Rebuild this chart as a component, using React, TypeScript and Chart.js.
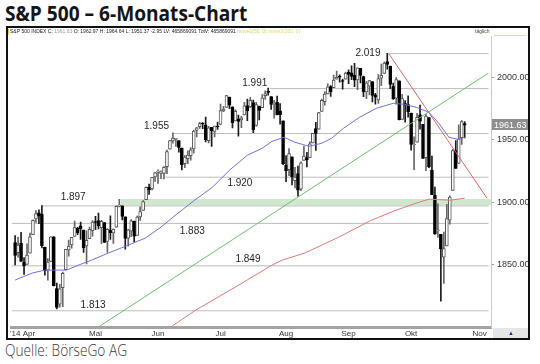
import React, { useEffect, useRef } from 'react';
import { Chart, registerables } from 'chart.js';

Chart.register(...registerables);

// Trading days from 24 Mar 2014 (index 0) to 27 Oct 2014 (index 151)
const opens = [
  1867.7, 1859.5, 1867.1, 1852.1, 1850.1, 1859.2,
  1874.0, 1886.6, 1891.4, 1890.3, 1863.9, 1845.5, 1852.6, 1872.3, 1830.7, 1818.2, 1831.5, 1846.0, 1861.7, 1865.8, 1872.6, 1879.3, 1881.0, 1877.7, 1865.0, 1870.8, 1877.1,
  1884.4, 1885.3, 1879.5, 1883.7, 1868.5, 1877.4, 1875.3, 1880.0, 1896.8, 1897.1, 1888.2, 1871.2, 1876.7, 1884.9, 1873.3, 1888.2, 1893.3, 1902.0, 1911.8, 1910.6, 1920.3,
  1923.9, 1923.1, 1923.1, 1928.5, 1942.4, 1949.0, 1950.3, 1949.4, 1943.4, 1930.8, 1934.8, 1937.2, 1942.7, 1957.5, 1960.5, 1962.9, 1962.0, 1949.3, 1959.9, 1956.6, 1960.8,
  1962.3, 1973.1, 1975.9, 1984.2, 1976.4, 1965.1, 1966.7, 1965.8, 1969.9, 1977.4, 1976.4, 1979.8, 1961.5, 1976.9, 1975.7, 1985.3, 1988.1, 1984.6, 1978.3, 1980.0, 1973.2, 1965.1,
  1929.8, 1926.0, 1936.3, 1917.3, 1923.0, 1910.4, 1933.4, 1935.7, 1935.6, 1947.4, 1958.9, 1958.4, 1972.7, 1980.5, 1986.8, 1992.6, 1991.7, 1998.6, 2000.5, 1997.4, 1998.5,
  2004.1, 2003.6, 2001.7, 1998.0, 2007.2, 2000.7, 1988.4, 1992.9, 1996.7, 1986.0, 1981.9, 1999.3, 2003.1, 2012.7, 2009.1, 1992.8, 1983.3, 1997.3, 1966.2, 1979.0, 1978.2,
  1971.4, 1945.8, 1948.1, 1970.0, 1962.4, 1935.6, 1967.7, 1925.6, 1905.7, 1877.1, 1874.2, 1856.0, 1864.9, 1885.6, 1909.4, 1941.3, 1931.0, 1951.6, 1963.0,
];
const highs = [
  1873.3, 1871.9, 1875.9, 1855.6, 1866.6, 1875.2,
  1885.8, 1893.2, 1893.8, 1897.3, 1864.0, 1854.9, 1872.4, 1872.5, 1835.1, 1834.2, 1844.0, 1862.3, 1869.6, 1871.9, 1884.9, 1879.8, 1884.1, 1877.7, 1877.0, 1880.0, 1885.2,
  1888.6, 1891.3, 1885.5, 1883.7, 1878.8, 1889.1, 1878.6, 1897.1, 1902.2, 1897.1, 1888.2, 1878.3, 1886.0, 1884.9, 1888.8, 1896.3, 1901.3, 1912.3, 1914.5, 1920.0, 1924.0,
  1925.9, 1925.1, 1928.6, 1941.7, 1949.4, 1955.6, 1950.9, 1949.4, 1943.4, 1937.3, 1941.2, 1943.7, 1957.7, 1959.9, 1963.9, 1963.7, 1968.2, 1960.8, 1959.9, 1961.0, 1964.2,
  1978.6, 1976.7, 1985.6, 1984.2, 1976.4, 1974.2, 1969.8, 1968.7, 1979.9, 1982.5, 1983.9, 1981.8, 1979.9, 1976.9, 1986.2, 1989.2, 1991.4, 1984.6, 1981.5, 1984.9, 1978.9, 1965.1,
  1937.4, 1942.9, 1936.3, 1927.9, 1928.9, 1932.4, 1944.9, 1939.9, 1948.4, 1955.2, 1964.0, 1972.0, 1982.6, 1988.6, 1994.8, 1993.5, 2001.9, 2005.0, 2002.1, 1998.6, 2004.3,
  2006.1, 2009.3, 2011.2, 2007.7, 2007.2, 2001.0, 1996.7, 1997.7, 1996.7, 1987.2, 2002.3, 2010.7, 2012.3, 2019.3, 2009.1, 1995.4, 1999.8, 1997.3, 1986.4, 1981.3, 1985.2,
  1971.4, 1952.3, 1971.2, 1977.8, 1962.4, 1970.4, 1967.7, 1936.9, 1912.1, 1898.7, 1874.2, 1876.0, 1898.2, 1905.0, 1942.5, 1949.3, 1961.9, 1965.3, 1964.6,
];
const lows = [
  1849.7, 1855.9, 1852.6, 1842.1, 1850.1, 1859.2,
  1873.96, 1883.8, 1882.7, 1863.3, 1841.5, 1837.5, 1852.4, 1833.0, 1814.4, 1815.8, 1816.3, 1846.0, 1856.7, 1863.2, 1872.6, 1873.9, 1870.2, 1859.7, 1850.6, 1870.8, 1872.7,
  1878.0, 1878.5, 1866.8, 1867.7, 1859.8, 1870.1, 1867.0, 1880.0, 1896.1, 1885.8, 1862.4, 1864.8, 1872.4, 1868.1, 1873.3, 1885.4, 1893.3, 1902.0, 1906.2, 1909.8, 1916.6,
  1915.0, 1918.8, 1918.6, 1922.9, 1942.4, 1947.2, 1944.6, 1940.1, 1925.8, 1927.7, 1930.9, 1933.6, 1939.3, 1952.3, 1959.1, 1958.9, 1948.3, 1947.5, 1944.7, 1952.2, 1958.2,
  1962.3, 1972.6, 1975.9, 1974.9, 1959.5, 1965.1, 1952.9, 1959.6, 1969.9, 1965.3, 1975.7, 1955.6, 1960.8, 1965.8, 1975.7, 1982.4, 1985.8, 1974.4, 1967.3, 1969.9, 1962.4, 1930.0,
  1916.4, 1921.2, 1913.8, 1911.5, 1904.8, 1909.2, 1933.4, 1928.3, 1935.6, 1947.4, 1941.5, 1958.4, 1972.7, 1977.7, 1986.8, 1984.8, 1991.7, 1998.6, 1996.2, 1990.5, 1998.5,
  1994.9, 1998.2, 1992.5, 1990.1, 1995.6, 1984.6, 1983.0, 1985.9, 1980.3, 1978.5, 1979.1, 1993.3, 2003.1, 2006.6, 1991.0, 1982.4, 1978.6, 1965.9, 1966.2, 1964.0, 1968.0,
  1941.7, 1926.0, 1948.1, 1958.4, 1935.1, 1925.3, 1927.6, 1906.1, 1874.1, 1871.8, 1820.7, 1835.0, 1864.9, 1882.3, 1909.4, 1927.1, 1931.0, 1946.3, 1951.4,
];
const closes = [
  1857.4, 1865.6, 1852.6, 1849.0, 1857.6, 1872.3,
  1885.5, 1890.9, 1888.8, 1865.1, 1845.0, 1852.0, 1872.2, 1833.1, 1815.7, 1830.6, 1843.0, 1862.3, 1864.9, 1871.9, 1879.6, 1875.4, 1878.6, 1863.4, 1869.4, 1878.3, 1884.0,
  1883.7, 1881.1, 1884.7, 1867.7, 1878.2, 1875.6, 1878.5, 1896.7, 1897.5, 1888.5, 1870.9, 1877.9, 1885.1, 1872.8, 1888.0, 1892.5, 1900.5, 1911.9, 1909.8, 1920.0, 1923.6,
  1925.0, 1924.2, 1927.9, 1940.5, 1949.4, 1951.3, 1950.8, 1943.9, 1930.1, 1936.2, 1937.8, 1942.0, 1957.0, 1959.5, 1962.9, 1962.6, 1950.0, 1959.5, 1957.2, 1961.0, 1960.2,
  1973.3, 1974.6, 1985.4, 1977.7, 1963.7, 1972.8, 1964.7, 1967.6, 1977.1, 1973.3, 1981.6, 1958.1, 1978.2, 1973.6, 1983.5, 1987.0, 1988.0, 1978.3, 1978.9, 1970.0, 1970.1, 1930.7,
  1925.2, 1939.0, 1920.2, 1920.2, 1909.6, 1931.6, 1936.9, 1933.8, 1946.7, 1955.2, 1955.1, 1971.7, 1981.6, 1986.5, 1992.4, 1988.4, 1997.9, 2000.0, 2000.1, 1996.7, 2003.4,
  2002.3, 2000.7, 1997.7, 2007.7, 2001.5, 1988.4, 1995.7, 1997.5, 1985.5, 1984.1, 1999.0, 2001.6, 2011.4, 2010.4, 1994.3, 1982.8, 1998.3, 1966.0, 1982.9, 1977.8, 1972.3,
  1946.2, 1946.2, 1967.9, 1964.8, 1935.1, 1968.9, 1928.2, 1906.1, 1874.7, 1877.7, 1862.5, 1862.8, 1886.8, 1904.0, 1941.3, 1927.1, 1950.8, 1964.6, 1961.63,
];

// Moving averages (index, value)
const ma50Idx = [0, 5.7, 10, 14.7, 17.3, 21.3, 25.7, 31.3, 38, 43.7, 49, 53, 60.3, 66.3, 72, 78, 83, 86.3, 90.3, 94, 98.7, 103, 106.3, 110.3, 115.7, 121.3, 127, 130.7, 134.7, 139, 142.3, 145.7, 148.7, 151];
const ma50Val = [1837.6, 1843.2, 1845.6, 1845.6, 1845.6, 1849.6, 1853.6, 1859.2, 1865.6, 1871.2, 1880, 1888, 1901.6, 1912, 1925.6, 1937.6, 1943.2, 1948.8, 1952, 1948, 1944.8, 1947.2, 1951.2, 1959.2, 1968, 1975.2, 1979.2, 1978.4, 1976, 1972, 1963.2, 1952, 1950.4, 1952];
const ma200Idx = [46, 52.3, 60.7, 74, 86.3, 89.7, 97.3, 108.7, 119.7, 128, 134.7, 139, 146.3, 151];
const ma200Val = [1790, 1800, 1813.6, 1832, 1849.6, 1853.6, 1859.2, 1872, 1885.6, 1893.6, 1899.2, 1902.4, 1901.6, 1903.2];

// Trend lines
const greenTrendIdx = [28.5, 158.8];
const greenTrendVal = [1800.8, 2003.2];
const redTrendIdx = [125.5, 158.5];
const redTrendVal = [2019, 1903.2];

// Horizontal marker levels
const levels = [2019, 1991, 1955, 1920, 1897, 1883, 1849, 1813];
const levelStartIdx = [125.5, 85.5, 53, 50.5, 8.8, -1.2, -1.2, -1.2];
const levelEndIdx = 159;
const levelLabels = ['2.019', '1.991', '1.955', '1.920', '1.897', '1.883', '1.849', '1.813'];
const levelLabelIdx = [118.5, 80.5, 47.5, 75.5, 19.5, 59.5, 78.2, 26.2];
const levelLabelVal = [2019.2, 1995.2, 1960.8, 1914.8, 1904.0, 1876.8, 1854.0, 1817.2];

// Support band
const bandLow = 1897.5;
const bandHigh = 1902.5;
const bandStartIdx = 35.5;

const monthTickIdx = [2.5, 27, 48, 69, 91, 112, 133, 156];
const monthLabels = ["'14 Apr", 'Mai', 'Jun', 'Jul', 'Aug', 'Sep', 'Okt', 'Nov'];
const yTicks = [1850, 1900, 1950, 2000];
const lastClose = 1961.63;

const FONT = 'Arial, "Liberation Sans", Helvetica, sans-serif';

export default function App() {
  const ref = useRef<HTMLCanvasElement>(null);

  useEffect(() => {
    document.body.style.margin = '0';
    const canvas = ref.current!;
    const up = closes.map((c, i) => c >= opens[i]);
    const bodies = closes.map((c, i) => ({ x: i, y: [opens[i], c] }));
    const wicks = closes.map((c, i) => ({
      x: i,
      y: [Math.min(lows[i], opens[i], c), Math.max(highs[i], opens[i], c)],
    }));

    const lineDs = (data: any[], color: string, order: number, width = 1) => ({
      type: 'line' as const,
      data,
      borderColor: color,
      borderWidth: width,
      pointRadius: 0,
      fill: false,
      order,
    });

    const datasets: any[] = [];
    datasets.push(lineDs(ma50Idx.map((x, i) => ({ x, y: ma50Val[i] })), '#7070e2', 0));
    datasets.push(lineDs(ma200Idx.map((x, i) => ({ x, y: ma200Val[i] })), '#e07a7a', 0));
    datasets.push(lineDs(greenTrendIdx.map((x, i) => ({ x, y: greenTrendVal[i] })), '#6cbf6c', 0));
    datasets.push(lineDs(redTrendIdx.map((x, i) => ({ x, y: redTrendVal[i] })), '#e06464', 0));
    datasets.push({
      type: 'bar',
      data: bodies,
      backgroundColor: up.map((u) => (u ? '#ffffff' : '#000000')),
      borderColor: up.map((u) => (u ? '#555555' : '#000000')),
      borderWidth: 1,
      borderSkipped: false,
      barThickness: 3,
      minBarLength: 1,
      grouped: false,
      order: 1,
    });
    datasets.push({
      type: 'bar',
      data: wicks,
      backgroundColor: up.map((u) => (u ? '#666666' : '#1a1a1a')),
      borderWidth: 0,
      borderSkipped: false,
      barThickness: 1,
      grouped: false,
      order: 2,
    });
    levels.forEach((lv, i) => {
      datasets.push(lineDs([{ x: levelStartIdx[i], y: lv }, { x: levelEndIdx, y: lv }], '#bdbdbd', 3));
    });
    datasets.push({
      type: 'line',
      data: [{ x: bandStartIdx, y: bandHigh }, { x: 200, y: bandHigh }],
      borderWidth: 0,
      pointRadius: 0,
      backgroundColor: '#cfe7cf',
      fill: '+1',
      order: 4,
    });
    datasets.push({
      type: 'line',
      data: [{ x: bandStartIdx, y: bandLow }, { x: 200, y: bandLow }],
      borderWidth: 0,
      pointRadius: 0,
      fill: false,
      order: 5,
    });

    const overlay = {
      id: 'overlay',
      afterDatasetsDraw(chart: any) {
        const { ctx, scales } = chart;
        const xs = scales.x;
        const ys = scales.y;
        ctx.save();
        ctx.font = `10px ${FONT}`;
        ctx.fillStyle = '#1e1e1e';
        ctx.textAlign = 'center';
        ctx.textBaseline = 'middle';
        levelLabels.forEach((t, i) => {
          ctx.fillText(t, xs.getPixelForValue(levelLabelIdx[i]), ys.getPixelForValue(levelLabelVal[i]));
        });
        ctx.restore();
      },
      afterDraw(chart: any) {
        const { ctx, scales, chartArea, width } = chart;
        const ys = scales.y;
        ctx.save();
        const py = ys.getPixelForValue(lastClose);
        ctx.fillStyle = '#8e8e8e';
        ctx.fillRect(chartArea.right + 1, Math.round(py - 6), width - chartArea.right - 1, 11);
        ctx.fillStyle = '#ffffff';
        ctx.font = `9px ${FONT}`;
        ctx.textAlign = 'left';
        ctx.textBaseline = 'middle';
        ctx.fillText(lastClose.toFixed(2), chartArea.right + 3, py);
        ctx.font = `5px ${FONT}`;
        ctx.textBaseline = 'middle';
        const segs: [string, string][] = [
          ['S&P 500 INDEX C: ', '#222'],
          ['1961.63', '#9a9a9a'],
          [' O: 1962.97 H: 1964.64 L: 1951.37 -2.95 LV: 465869091 TotV: 465869091 ', '#222'],
          ['move1(50, 0) ', '#cdd35a'],
          ['move2(200, 0)', '#e5d46a'],
        ];
        let hx = 2;
        segs.forEach(([t, c]) => {
          ctx.fillStyle = c;
          ctx.fillText(t, hx, 4);
          hx += ctx.measureText(t).width;
        });
        ctx.fillStyle = '#444';
        ctx.fillText('täglich', 467, 4);
        ctx.fillStyle = '#e3c84a';
        ctx.fillRect(0, 1, 1, 5);
        ctx.strokeStyle = '#eadb98';
        ctx.lineWidth = 1;
        ctx.beginPath();
        ctx.moveTo(486, 7.5);
        ctx.lineTo(518, 7.5);
        ctx.stroke();
        ctx.fillStyle = '#e6e6e6';
        ctx.fillRect(chartArea.right + 2, chartArea.bottom + 1, width - chartArea.right - 2, 11);
        ctx.fillStyle = '#22308a';
        ctx.font = `6px ${FONT}`;
        ctx.textAlign = 'center';
        ctx.fillText('▲', chartArea.right + 20, chartArea.bottom + 6);
        ctx.restore();
      },
    };

    const chart = new Chart(canvas, {
      type: 'bar',
      data: { datasets },
      options: {
        responsive: false,
        maintainAspectRatio: false,
        animation: false,
        devicePixelRatio: 1,
        events: [],
        layout: { padding: { top: 8, left: 0, right: 0, bottom: 0 } },
        plugins: { legend: { display: false }, tooltip: { enabled: false }, title: { display: false } },
        scales: {
          x: {
            type: 'linear',
            min: -1.1667,
            max: 159.8333,
            offset: false,
            afterBuildTicks: (s: any) => {
              s.ticks = monthTickIdx.map((v) => ({ value: v }));
            },
            afterFit: (s: any) => {
              s.height = 11;
            },
            grid: { display: false, drawTicks: false },
            border: { display: true, color: '#a3a3a3', width: 3 },
            ticks: {
              autoSkip: false,
              maxRotation: 0,
              minRotation: 0,
              padding: 2,
              color: '#333',
              font: { family: FONT, size: 8 },
              callback: (_v: any, i: number) => monthLabels[i] ?? '',
            },
          },
          y: {
            type: 'linear',
            position: 'right',
            min: 1800.0,
            max: 2032.8,
            beginAtZero: false,
            afterBuildTicks: (s: any) => {
              s.ticks = yTicks.map((v) => ({ value: v }));
            },
            afterFit: (s: any) => {
              s.width = 37;
            },
            grid: { drawOnChartArea: false, drawTicks: true, tickLength: 3, color: '#9a9a9a' },
            border: { display: true, color: '#e2cf78', dash: [1, 2], width: 1 },
            ticks: {
              padding: 3,
              color: '#333',
              font: { family: FONT, size: 9 },
              callback: (v: any) => Number(v).toFixed(2),
            },
          },
        },
      } as any,
      plugins: [overlay],
    } as any);
    return () => chart.destroy();
  }, []);

  return (
    <div style={{ position: 'relative', width: 540, height: 364, background: '#fff', overflow: 'hidden' }}>
      <div
        style={{
          position: 'absolute',
          left: 5,
          top: 3,
          fontFamily: '"Open Sans", "Noto Sans", sans-serif',
          fontWeight: 700,
          fontSize: 21,
          lineHeight: '21px',
          color: '#151515',
          whiteSpace: 'nowrap',
          transform: 'scaleX(0.91)',
          transformOrigin: 'left top',
        }}
      >
        S&amp;P 500 – 6-Monats-Chart
      </div>
      <div
        style={{
          position: 'absolute',
          left: 6,
          top: 26,
          width: 520,
          height: 310,
          border: '2px solid #111',
        }}
      >
        <canvas ref={ref} width={520} height={310} style={{ display: 'block', width: 520, height: 310 }} />
      </div>
      <div
        style={{
          position: 'absolute',
          left: 5,
          top: 341,
          fontFamily: '"Open Sans", "Noto Sans", sans-serif',
          fontWeight: 300,
          fontSize: 16.5,
          lineHeight: '17px',
          color: '#3a3a3a',
          whiteSpace: 'nowrap',
          transform: 'scaleX(0.83)',
          transformOrigin: 'left top',
        }}
      >
        Quelle: BörseGo AG
      </div>
    </div>
  );
}
